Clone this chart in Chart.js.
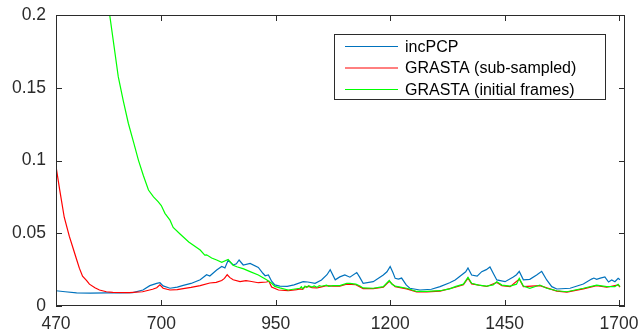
<!DOCTYPE html>
<html>
<head>
<meta charset="utf-8">
<script src="https://cdn.jsdelivr.net/npm/chart.js@4/dist/chart.umd.min.js"></script>
<style>
  html, body { margin: 0; padding: 0; background: #fff; }
  #wrap { width: 640px; height: 336px; }
</style>
</head>
<body>
<div id="wrap"><canvas id="chart" width="640" height="336"></canvas></div>
<script>
const seriesLabels = ["incPCP", "GRASTA (sub-sampled)", "GRASTA (initial frames)"];
const seriesColors = ["#0072bd", "#ff0000", "#00ff00"];

const xTicks = [470, 700, 950, 1200, 1450, 1700];
const yTicks = [0, 0.05, 0.1, 0.15, 0.2];

const incFrames = [470, 490, 515, 545, 580, 610, 638, 660, 675, 690, 697, 704, 719, 735, 748, 765, 785, 799, 806, 821,
  832, 839, 846, 857, 864, 870, 879, 894, 912, 922, 927, 934, 941, 948, 959, 975, 990, 1010, 1020, 1036,
  1050, 1062, 1069, 1080, 1090, 1101, 1112, 1127, 1133, 1141, 1163, 1185, 1193, 1200, 1206, 1211, 1218, 1225, 1235, 1243,
  1265, 1290, 1309, 1330, 1342, 1356, 1365, 1370, 1378, 1390, 1400, 1410, 1418, 1426, 1433, 1451, 1469, 1476, 1482, 1491,
  1505, 1520, 1531, 1542, 1553, 1564, 1593, 1622, 1640, 1645, 1651, 1659, 1669, 1677, 1684, 1691, 1698, 1702];
const incValues = [0.0105, 0.0098, 0.0090, 0.0089, 0.0090, 0.0090, 0.0092, 0.0110, 0.0140, 0.0155, 0.0160, 0.0138, 0.0122, 0.0130, 0.0142, 0.0155, 0.0180, 0.0215, 0.0206, 0.0247,
  0.0272, 0.0262, 0.0314, 0.0282, 0.0290, 0.0316, 0.0282, 0.0293, 0.0265, 0.0225, 0.0208, 0.0213, 0.0170, 0.0145, 0.0137, 0.0135, 0.0145, 0.0167, 0.0165, 0.0156,
  0.0179, 0.0215, 0.0250, 0.0180, 0.0200, 0.0213, 0.0198, 0.0230, 0.0200, 0.0156, 0.0167, 0.0213, 0.0235, 0.0272, 0.0230, 0.0190, 0.0185, 0.0192, 0.0145, 0.0122,
  0.0110, 0.0115, 0.0133, 0.0160, 0.0179, 0.0213, 0.0235, 0.0262, 0.0213, 0.0205, 0.0236, 0.0250, 0.0268, 0.0220, 0.0179, 0.0167, 0.0200, 0.0215, 0.0238, 0.0180,
  0.0183, 0.0213, 0.0238, 0.0179, 0.0133, 0.0117, 0.0122, 0.0151, 0.0185, 0.0192, 0.0183, 0.0192, 0.0200, 0.0165, 0.0179, 0.0167, 0.0190, 0.0180];

const subFrames = [470, 478, 488, 499, 507, 514, 521, 528, 537, 543, 555, 565, 580, 594, 630, 659, 681, 690, 697, 704,
  719, 735, 748, 765, 785, 806, 820, 832, 838, 844, 850, 857, 872, 885, 894, 912, 930, 935, 941, 956,
  977, 996, 1003, 1009, 1014, 1022, 1029, 1040, 1050, 1061, 1075, 1090, 1105, 1125, 1141, 1163, 1185, 1198, 1211, 1236,
  1258, 1280, 1309, 1342, 1360, 1370, 1378, 1411, 1433, 1444, 1462, 1482, 1491, 1527, 1564, 1586, 1622, 1651, 1673, 1698,
  1702];
const subValues = [0.0960, 0.0800, 0.0610, 0.0480, 0.0400, 0.0330, 0.0260, 0.0205, 0.0175, 0.0150, 0.0125, 0.0110, 0.0098, 0.0093, 0.0092, 0.0098, 0.0115, 0.0125, 0.0145, 0.0122,
  0.0110, 0.0112, 0.0120, 0.0128, 0.0140, 0.0158, 0.0162, 0.0175, 0.0190, 0.0215, 0.0195, 0.0180, 0.0167, 0.0175, 0.0170, 0.0160, 0.0165, 0.0170, 0.0130, 0.0110,
  0.0105, 0.0113, 0.0118, 0.0114, 0.0132, 0.0135, 0.0126, 0.0124, 0.0132, 0.0140, 0.0136, 0.0137, 0.0150, 0.0146, 0.0120, 0.0119, 0.0129, 0.0170, 0.0133, 0.0118,
  0.0097, 0.0097, 0.0102, 0.0129, 0.0146, 0.0192, 0.0152, 0.0134, 0.0162, 0.0140, 0.0133, 0.0185, 0.0133, 0.0140, 0.0102, 0.0095, 0.0118, 0.0140, 0.0129, 0.0145,
  0.0129];

const initFrames = [586, 606, 617, 628, 640, 650, 661, 672, 683, 693, 700, 708, 719, 726, 741, 760, 785, 795, 799, 810,
  821, 832, 846, 857, 865, 880, 894, 912, 930, 941, 948, 959, 977, 1003, 1006, 1009, 1014, 1018, 1022, 1029,
  1034, 1040, 1045, 1050, 1061, 1066, 1075, 1090, 1105, 1112, 1125, 1134, 1141, 1163, 1185, 1198, 1204, 1211, 1222, 1236,
  1258, 1280, 1309, 1330, 1342, 1360, 1370, 1378, 1393, 1411, 1425, 1433, 1444, 1462, 1476, 1482, 1491, 1505, 1527, 1542,
  1564, 1586, 1622, 1651, 1673, 1691, 1698, 1702];
const initValues = [0.2030, 0.1576, 0.1410, 0.1256, 0.1120, 0.1003, 0.0895, 0.0797, 0.0750, 0.0717, 0.0690, 0.0637, 0.0590, 0.0540, 0.0495, 0.0440, 0.0385, 0.0350, 0.0352, 0.0330,
  0.0316, 0.0300, 0.0320, 0.0280, 0.0270, 0.0255, 0.0236, 0.0213, 0.0180, 0.0156, 0.0135, 0.0125, 0.0110, 0.0122, 0.0132, 0.0118, 0.0137, 0.0128, 0.0140, 0.0130,
  0.0138, 0.0128, 0.0140, 0.0136, 0.0144, 0.0135, 0.0140, 0.0140, 0.0155, 0.0156, 0.0150, 0.0137, 0.0124, 0.0122, 0.0133, 0.0175, 0.0150, 0.0137, 0.0130, 0.0122,
  0.0100, 0.0100, 0.0105, 0.0118, 0.0133, 0.0150, 0.0197, 0.0156, 0.0144, 0.0137, 0.0145, 0.0167, 0.0144, 0.0137, 0.0150, 0.0190, 0.0137, 0.0122, 0.0144, 0.0122,
  0.0105, 0.0098, 0.0122, 0.0144, 0.0133, 0.0133, 0.0149, 0.0133];

const axisColor = "#2b2b2b";
const tickFont = { family: "'Liberation Sans', Arial, sans-serif", size: 17.5 };

function toPoints(frames, values) {
  return frames.map((f, i) => ({ x: f, y: values[i] }));
}

// matlab style box with inward ticks
const boxPlugin = {
  id: "box",
  afterDatasetsDraw(chart) {
    const { ctx, chartArea: a, scales } = chart;
    ctx.save();
    ctx.strokeStyle = axisColor;
    ctx.lineWidth = 1;
    ctx.strokeRect(a.left + 0.5, a.top + 0.5, a.right - a.left - 1, a.bottom - a.top - 1);
    ctx.beginPath();
    xTicks.forEach((t) => {
      const x = Math.round(scales.x.getPixelForValue(t)) + 0.5;
      ctx.moveTo(x, a.bottom);
      ctx.lineTo(x, a.bottom - 6);
      ctx.moveTo(x, a.top);
      ctx.lineTo(x, a.top + 6);
    });
    yTicks.forEach((t) => {
      const y = Math.round(scales.y.getPixelForValue(t)) + 0.5;
      ctx.moveTo(a.left, y);
      ctx.lineTo(a.left + 6, y);
      ctx.moveTo(a.right, y);
      ctx.lineTo(a.right - 6, y);
    });
    ctx.stroke();
    ctx.restore();
  },
};

const legendPlugin = {
  id: "boxLegend",
  afterDraw(chart) {
    const ctx = chart.ctx;
    const left = 334, top = 34, width = 271, height = 65;
    ctx.save();
    ctx.fillStyle = "#fff";
    ctx.fillRect(left, top, width, height);
    ctx.strokeStyle = axisColor;
    ctx.lineWidth = 1;
    ctx.strokeRect(left + 0.5, top + 0.5, width, height);
    ctx.font = "16px 'Liberation Sans', Arial, sans-serif";
    ctx.textBaseline = "middle";
    chart.data.datasets.forEach((ds, i) => {
      const y = top + 12.5 + i * 21.5;
      ctx.strokeStyle = ds.borderColor;
      ctx.beginPath();
      ctx.moveTo(left + 11, y);
      ctx.lineTo(left + 64, y);
      ctx.stroke();
      ctx.fillStyle = "#000";
      ctx.fillText(ds.label, left + 71, y + 1);
    });
    ctx.restore();
  },
};

// later series sit on top, like the original plot
const datasets = [
  toPoints(incFrames, incValues),
  toPoints(subFrames, subValues),
  toPoints(initFrames, initValues),
].map((pts, i) => ({
  label: seriesLabels[i],
  data: pts,
  order: 2 - i,
  borderColor: seriesColors[i],
  borderWidth: 1.2,
  pointRadius: 0,
  tension: 0,
  fill: false,
}));

new Chart(document.getElementById("chart").getContext("2d"), {
  type: "line",
  data: { datasets },
  options: {
    responsive: false,
    animation: false,
    layout: { padding: { top: 15, right: 15, left: 0, bottom: 0 } },
    plugins: { legend: { display: false }, tooltip: { enabled: false } },
    scales: {
      x: {
        type: "linear",
        min: 470,
        max: 1713,
        afterBuildTicks: (s) => { s.ticks = xTicks.map((v) => ({ value: v })); },
        afterFit: (s) => {
          s.height = 30;
          s.paddingLeft = 0;
          s.paddingRight = 0;
        },
        grid: { display: false, drawTicks: false },
        border: { display: false },
        ticks: {
          font: tickFont,
          color: axisColor,
          padding: 8,
          autoSkip: false,
          maxRotation: 0,
          callback: (v) => String(v),
        },
      },
      y: {
        min: 0,
        max: 0.2,
        afterBuildTicks: (s) => { s.ticks = yTicks.map((v) => ({ value: v })); },
        afterFit: (s) => {
          s.width = 56;
          s.paddingTop = 0;
          s.paddingBottom = 0;
        },
        grid: { display: false, drawTicks: false },
        border: { display: false },
        ticks: {
          font: tickFont,
          color: axisColor,
          padding: 10,
          callback: (v) => String(Number(v.toFixed(3))),
        },
      },
    },
  },
  plugins: [boxPlugin, legendPlugin],
});
</script>
</body>
</html>
